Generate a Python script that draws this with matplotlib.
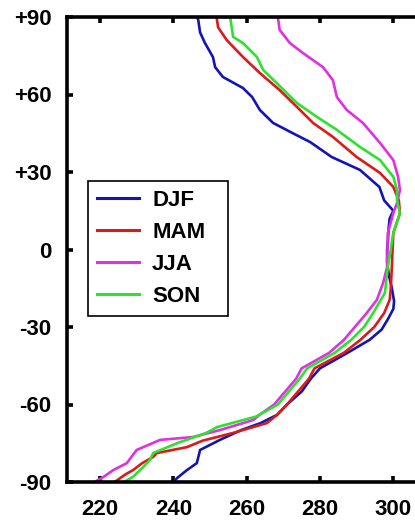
import matplotlib
matplotlib.use("Agg")
import matplotlib.pyplot as plt

# Zonal-mean temperature (K) by latitude for each season
lat_djf = [90, 88.8, 84, 80, 74.5, 70.6, 66.8, 62.5, 59, 54, 49, 45, 41.6, 35.8, 30.8, 24.2,
           19, 15, 12, 8, 3, 0, -5, -10, -15, -20, -23, -27, -31, -35, -40, -46, -50, -55,
           -60, -64, -67.2, -69.9, -73.7, -77.6, -82.7, -85.4, -88.5, -90]
t_djf = [246.5, 246.8, 247.3, 248.6, 250.8, 251.4, 253.5, 259, 261.5, 263.6, 267.2, 272.6,
         277.3, 283.2, 290.9, 296.2, 297.5, 300, 299, 298.7, 298.5, 298.3, 298.3, 298.8,
         299.6, 300.2, 300, 298.5, 296.8, 293.5, 287.5, 280, 277.5, 275, 271, 268.3, 263.8,
         258.5, 252.7, 247.3, 246.4, 243.7, 241, 240]

lat_mam = [90, 86, 81, 74.5, 68.3, 61.7, 55.2, 49, 43.6, 35.8, 29.6, 24.2, 19, 14, 6.4, 0,
           -6.8, -15, -19.5, -24.6, -30, -35, -40, -46, -50, -55, -60, -64, -67.2, -71,
           -74, -76.5, -78.8, -80.3, -82.7, -85.4, -87, -90]
t_mam = [251.8, 252.2, 254.6, 259, 263.6, 269, 273.7, 278.1, 283.5, 290, 296.4, 300, 301.5,
         301.8, 300, 299.8, 299.6, 299.3, 299, 297.5, 294.8, 291, 286.5, 278.5, 277, 274,
         271, 268.3, 265.5, 256.3, 248, 243.7, 235.5, 234.5, 231.5, 229, 227, 224]

lat_jja = [90, 85, 79.9, 76, 70.6, 65.6, 59, 54, 49, 41.2, 34.6, 28.1, 23, 18, 14.1, 6.4, 0,
           -6.8, -13, -19.5, -25, -30, -35, -40, -46, -50, -55, -60, -64, -66, -69.9, -72.6,
           -73.7, -77.6, -82.7, -85.4, -88, -90]
t_jja = [268.5, 269, 271.8, 275.4, 280.8, 283.5, 284.6, 287.3, 291.7, 296.4, 300, 301.3,
         301.8, 301, 300, 298.5, 298.4, 298.3, 297.2, 295.5, 292.5, 289.5, 286.5, 282.5, 275,
         273.5, 270.5, 267.5, 263.5, 261.8, 252.7, 245.4, 236.4, 230, 227.3, 223.6, 221,
         218.5]

lat_son = [90, 82.3, 79.9, 74.5, 69.5, 64.4, 56.7, 51.3, 46.3, 39.7, 34.6, 28.1, 23, 19, 14.1,
           6.4, 0, -6.8, -16.8, -24.6, -30, -35, -40, -46, -50, -55, -60, -64.7, -68.7,
           -71, -75, -78.8, -81.5, -84.2, -88, -90]
t_son = [255.5, 256.3, 259, 262.8, 264.5, 268.2, 273.7, 279.2, 284.6, 290.9, 296.4, 300, 301,
         301, 301.8, 300, 299.3, 298.5, 297.7, 294.5, 292, 288.5, 284, 276.5, 274.5, 271.5,
         268.5, 262.5, 252, 249, 241, 234.5, 233.6, 231.8, 229, 226.5]

season_names = ["DJF", "MAM", "JJA", "SON"]
season_colors = ["#1414b4", "#dc1a1a", "#e030e0", "#30e030"]

x_ticks = [220, 240, 260, 280, 300]
y_ticks = [90, 60, 30, 0, -30, -60, -90]
y_tick_labels = ["+90", "+60", "+30", "0", "-30", "-60", "-90"]

plt.rcParams["font.family"] = ["Liberation Sans", "DejaVu Sans"]
plt.rcParams["font.weight"] = "bold"

fig = plt.figure(figsize=(4.15, 5.25), dpi=100)
W, H = 415.0, 525.0
ax = fig.add_axes([67 / W, 43 / H, 363 / W, 465 / H])

series = [(lat_djf, t_djf), (lat_mam, t_mam), (lat_jja, t_jja), (lat_son, t_son)]
for (lat, temp), name, color in zip(series, season_names, season_colors):
    ax.plot(temp, lat, color=color, lw=1.9, label=name, solid_joinstyle="round")

ax.set_xlim(211, 310)
ax.set_ylim(-90, 90)
ax.set_xticks(x_ticks)
ax.set_xticklabels([str(v) for v in x_ticks])
ax.set_yticks(y_ticks)
ax.set_yticklabels(y_tick_labels)

for side in ["left", "bottom", "top", "right"]:
    ax.spines[side].set_linewidth(2.6)
    ax.spines[side].set_color("black")

ax.tick_params(axis="both", direction="in", length=4, width=2.6, labelsize=16,
               top=True, right=False)
ax.tick_params(axis="x", pad=12)
ax.tick_params(axis="y", pad=11)
for lbl in ax.get_xticklabels() + ax.get_yticklabels():
    lbl.set_fontweight("bold")

# legend box spans a fixed width in figure pixels
lx0, ly_top, lw_px = 87.7, 180.7, 140.6
leg = ax.legend(loc="upper left",
                bbox_to_anchor=(lx0 / W, 1 - ly_top / H - 0.3, lw_px / W, 0.3),
                bbox_transform=fig.transFigure, mode="expand", borderaxespad=0,
                fancybox=False, framealpha=1, edgecolor="black", handlelength=1.9,
                handletextpad=0.6, labelspacing=0.5, borderpad=0.4,
                prop={"weight": "bold", "size": 16})
leg.get_frame().set_linewidth(1.2)
for line in leg.get_lines():
    line.set_linewidth(2.2)

fig.savefig("out.png", dpi=100)
